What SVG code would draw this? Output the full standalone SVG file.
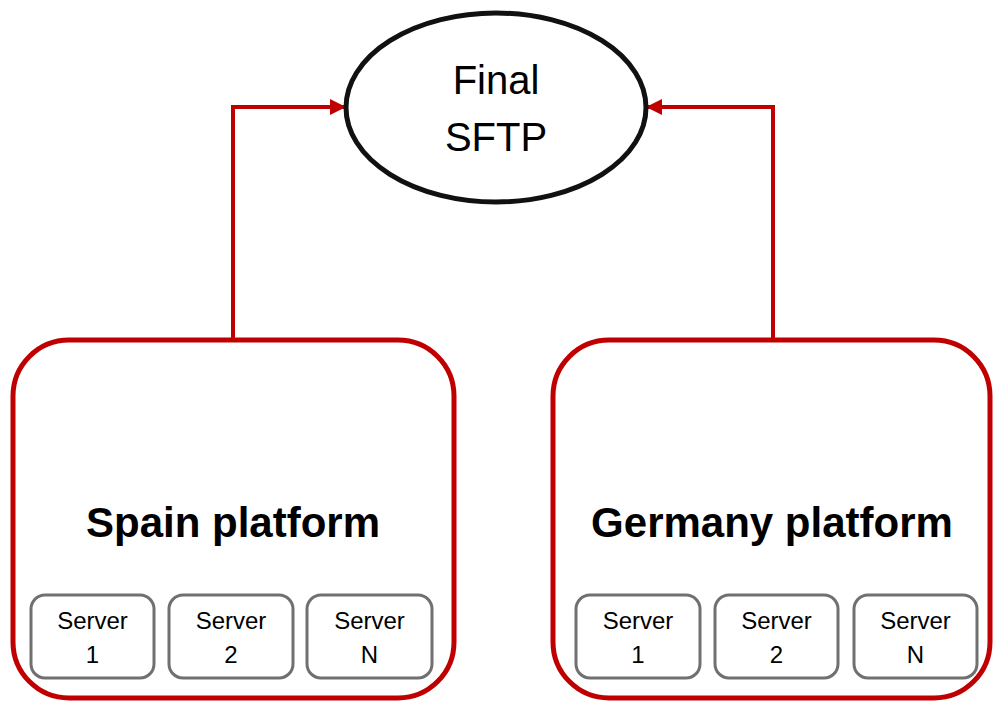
<svg xmlns="http://www.w3.org/2000/svg" width="993" height="702" viewBox="0 0 993 702">
  <style>
    .platform { fill: #ffffff; stroke: #c00000; stroke-width: 5; }
    .server { fill: #ffffff; stroke: #707070; stroke-width: 3; }
    .conn { fill: none; stroke: #c00000; stroke-width: 4; }
    .ptext { font-family: "Liberation Sans", Arial, sans-serif; font-weight: bold; font-size: 42px; fill: #000000; text-anchor: middle; }
    .stext { font-family: "Liberation Sans", Arial, sans-serif; font-size: 24px; fill: #000000; text-anchor: middle; }
    .etext { font-family: "Liberation Sans", Arial, sans-serif; font-size: 40px; fill: #000000; text-anchor: middle; }
  </style>
  <defs>
    <marker id="arrow" markerUnits="userSpaceOnUse" markerWidth="16" markerHeight="16" viewBox="0 0 16 16" refX="16" refY="8" orient="auto">
      <path d="M0,0 L16,8 L0,16 Z" fill="#c00000"/>
    </marker>
  </defs>
  <rect width="993" height="702" fill="#ffffff"/>

  <g id="connectors">
    <path class="conn" d="M233,340 V107 H346" marker-end="url(#arrow)"/>
    <path class="conn" d="M773,340 V107 H646" marker-end="url(#arrow)"/>
  </g>

  <g id="final-sftp">
    <ellipse cx="496" cy="107.5" rx="150" ry="94.5" fill="#ffffff" stroke="#111111" stroke-width="5"/>
    <text class="etext" x="496" y="94">Final</text>
    <text class="etext" x="496" y="151">SFTP</text>
  </g>

  <g id="spain-platform">
    <rect class="platform" x="13" y="340" width="441" height="358" rx="56" ry="56"/>
    <text class="ptext" x="233" y="537">Spain platform</text>
  </g>
  <g id="spain-server-1">
    <rect class="server" x="31" y="595" width="123" height="83" rx="14" ry="14"/>
    <text class="stext" x="92.5" y="629">Server</text>
    <text class="stext" x="92.5" y="663">1</text>
  </g>
  <g id="spain-server-2">
    <rect class="server" x="169" y="595" width="124" height="83" rx="14" ry="14"/>
    <text class="stext" x="231" y="629">Server</text>
    <text class="stext" x="231" y="663">2</text>
  </g>
  <g id="spain-server-n">
    <rect class="server" x="307" y="595" width="125" height="83" rx="14" ry="14"/>
    <text class="stext" x="369.5" y="629">Server</text>
    <text class="stext" x="369.5" y="663">N</text>
  </g>

  <g id="germany-platform">
    <rect class="platform" x="553" y="340" width="437" height="358" rx="56" ry="56"/>
    <text class="ptext" x="772" y="537">Germany platform</text>
  </g>
  <g id="germany-server-1">
    <rect class="server" x="576" y="595" width="124" height="83" rx="14" ry="14"/>
    <text class="stext" x="638" y="629">Server</text>
    <text class="stext" x="638" y="663">1</text>
  </g>
  <g id="germany-server-2">
    <rect class="server" x="715" y="595" width="123" height="83" rx="14" ry="14"/>
    <text class="stext" x="776.5" y="629">Server</text>
    <text class="stext" x="776.5" y="663">2</text>
  </g>
  <g id="germany-server-n">
    <rect class="server" x="854" y="595" width="123" height="83" rx="14" ry="14"/>
    <text class="stext" x="915.5" y="629">Server</text>
    <text class="stext" x="915.5" y="663">N</text>
  </g>
</svg>
